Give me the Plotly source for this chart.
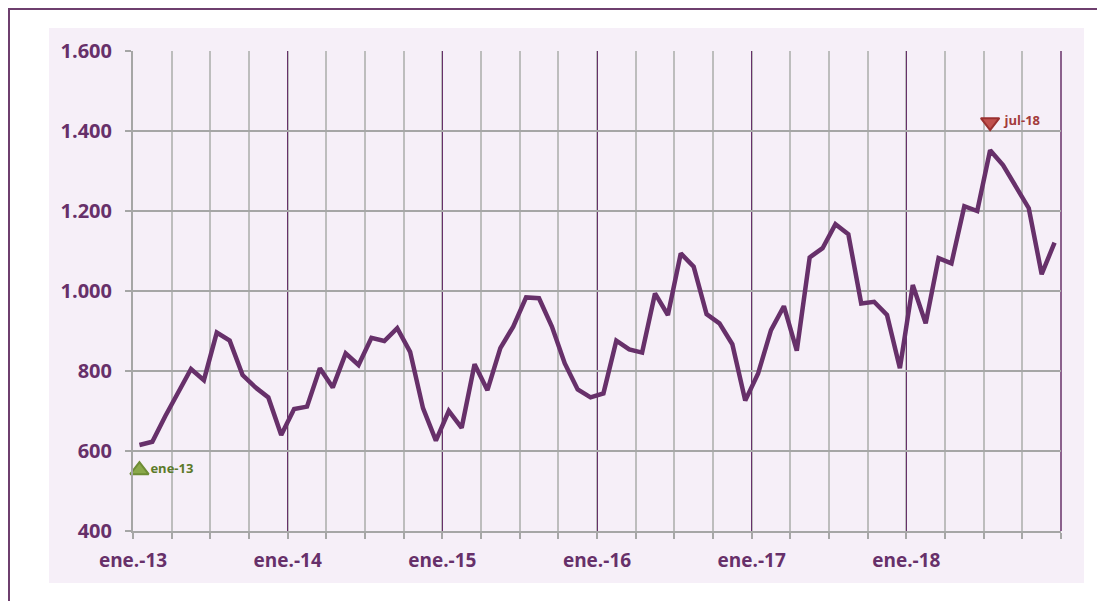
import plotly.graph_objects as go

# ---- data ----
years = ["13", "14", "15", "16", "17", "18"]
months = ["ene", "feb", "mar", "abr", "may", "jun", "jul", "ago", "sep", "oct", "nov", "dic"]
month_labels = [f"{m}-{y}" for y in years for m in months]

values = [
    615, 623, 687, 747, 805, 777, 896, 876, 790, 759, 734, 640,      # 2013
    705, 711, 807, 759, 844, 815, 883, 875, 907, 848, 707, 626,      # 2014
    700, 658, 817, 752, 857, 911, 984, 982, 911, 819, 754, 734,      # 2015
    744, 876, 854, 846, 994, 940, 1094, 1061, 942, 919, 867, 726,    # 2016
    794, 902, 962, 851, 1084, 1107, 1167, 1142, 969, 973, 940, 807,  # 2017
    1015, 919, 1082, 1069, 1212, 1200, 1352, 1315, 1261, 1207, 1042, 1121,  # 2018
]

tick_labels = ["ene.-13", "ene.-14", "ene.-15", "ene.-16", "ene.-17", "ene.-18", ""]
y_ticks = [400, 600, 800, 1000, 1200, 1400, 1600]
y_tick_labels = ["400", "600", "800", "1.000", "1.200", "1.400", "1.600"]

min_label = "ene-13"
min_marker_value = 552
max_label = "jul-18"
max_marker_value = 1422

# ---- styling ----
PURPLE = "#67306A"
LAVENDER = "#F6EFF8"
GRID = "#A6A6A6"
MINOR_GRID = "#BDBDBD"
FONT = "Open Sans"

x_pos = [i + 0.5 for i in range(len(values))]
tick_pos = [12 * k for k in range(len(tick_labels))]

fig = go.Figure()
fig.add_trace(go.Scatter(
    x=x_pos, y=values, mode="lines",
    line=dict(color=PURPLE, width=4.5),
    hovertext=month_labels, showlegend=False,
))

imin = month_labels.index(min_label)
imax = month_labels.index(max_label)
fig.add_trace(go.Scatter(
    x=[x_pos[imin]], y=[min_marker_value], mode="markers+text",
    marker=dict(symbol="triangle-up", size=16, color="#8AA84A",
                line=dict(color="#6E8C35", width=2)),
    text=[min_label], textposition="middle right",
    textfont=dict(family=FONT, size=13, color="#5C7A2A", weight="bold"),
    showlegend=False, cliponaxis=False,
))
fig.add_trace(go.Scatter(
    x=[x_pos[imax]], y=[max_marker_value], mode="markers+text",
    marker=dict(symbol="triangle-down", size=16, color="#C0504D",
                line=dict(color="#9A3030", width=2)),
    text=[" " + max_label], textposition="middle right",
    textfont=dict(family=FONT, size=13, color="#A33B3B", weight="bold"),
    showlegend=False, cliponaxis=False,
))

# page has an 8px body margin: figure coords = page coords - 8
FW, FH = 1097, 593
L, T, W, H = 125, 43, 928, 480
def px_x(p):
    return (p - L) / W
def px_y(p):
    return (T + H - p) / H

shapes = [
    dict(type="rect", xref="paper", yref="paper",
         x0=px_x(41), x1=px_x(1076), y0=px_y(575), y1=px_y(20),
         fillcolor=LAVENDER, line=dict(width=0), layer="below"),
    dict(type="rect", xref="paper", yref="paper",
         x0=px_x(1), x1=px_x(1110), y0=px_y(610), y1=px_y(1),
         fillcolor="rgba(0,0,0,0)", line=dict(color="#6E3F6E", width=2), layer="above"),
    dict(type="line", xref="paper", yref="paper",
         x0=1, x1=1, y0=0, y1=1, line=dict(color=PURPLE, width=1.5), layer="below"),
]

fig.update_layout(
    width=FW, height=FH,
    margin=dict(l=L, r=FW - L - W, t=T, b=FH - T - H),
    paper_bgcolor="white", plot_bgcolor=LAVENDER,
    shapes=shapes,
    xaxis=dict(
        range=[0, 72], tickmode="array", tickvals=tick_pos, ticktext=tick_labels,
        showgrid=True, gridcolor=PURPLE, gridwidth=1,
        ticks="outside", ticklen=6, tickcolor=GRID, tickwidth=1.5,
        showline=True, linecolor=GRID, linewidth=2,
        minor=dict(dtick=3, tick0=0, showgrid=True, gridcolor=MINOR_GRID, gridwidth=2,
                   ticks="outside", ticklen=6, tickcolor=GRID, tickwidth=1.5),
        tickfont=dict(family=FONT, size=19, color=PURPLE, weight="bold"),
        ticklabelstandoff=5, zeroline=False, fixedrange=True,
    ),
    yaxis=dict(
        range=[400, 1600], tickmode="array", tickvals=y_ticks, ticktext=y_tick_labels,
        showgrid=True, gridcolor=GRID, gridwidth=2,
        ticks="outside", ticklen=6, tickcolor=GRID, tickwidth=1.5,
        showline=True, linecolor=GRID, linewidth=2,
        tickfont=dict(family=FONT, size=20, color=PURPLE, weight="bold"),
        ticklabelstandoff=9, zeroline=False, fixedrange=True,
    ),
)

fig.write_html("out.html")
